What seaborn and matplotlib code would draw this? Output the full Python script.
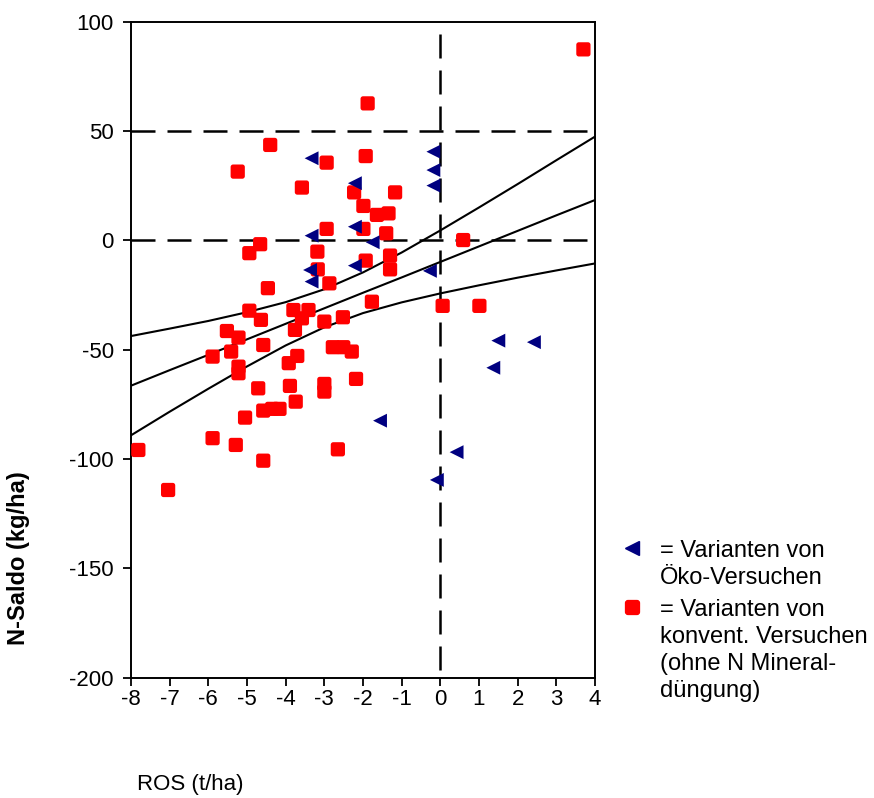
import numpy as np
import pandas as pd
import seaborn as sns
import matplotlib.pyplot as plt
from matplotlib.path import Path
from matplotlib.lines import Line2D

# Werte (ROS in t/ha, N-Saldo in kg/ha)
konv_ros = [3.70, -1.88, -4.40, -5.24, -2.94, -1.93, -3.58, -2.23, -1.17, -1.99,
            -1.64, -1.34, -2.94, -1.99, -1.40, -4.66, -4.94, -3.18, -1.30, -1.93,
            -1.30, -3.17, 0.59, -4.46, -2.87, -1.77, 0.06, 1.01, -4.94, -3.80,
            -3.41, -3.58, -3.00, -2.52, -4.64, -5.52, -5.22, -3.76, -4.58, -5.89,
            -5.41, -5.22, -5.22, -3.92, -3.70, -2.78, -2.51, -2.29, -4.71, -3.89,
            -3.00, -3.00, -2.18, -4.58, -4.16, -4.35, -5.05, -3.74, -5.89, -5.29,
            -7.81, -4.58, -2.65, -7.04]
konv_saldo = [87.3, 62.6, 43.6, 31.4, 35.5, 38.5, 24.1, 21.9, 21.9, 15.7,
              11.6, 12.3, 5.2, 5.2, 3.2, -1.8, -5.9, -5.2, -7.0, -9.3,
              -13.3, -13.3, 0.1, -21.9, -19.7, -28.1, -30.0, -30.0, -32.2, -31.9,
              -31.9, -35.7, -37.2, -35.2, -36.4, -41.5, -44.5, -41.0, -47.9, -53.2,
              -50.9, -57.8, -60.8, -56.2, -52.9, -48.9, -48.9, -50.9, -67.7, -66.6,
              -65.7, -69.2, -63.4, -77.9, -77.1, -77.1, -81.1, -73.8, -90.5, -93.6,
              -95.9, -100.8, -95.6, -114.2]

oeko_ros = [-3.33, -0.18, -0.18, -0.18, -2.21, -2.21, -3.33, -1.75, -2.21,
            -3.37, -0.27, -3.33, -1.56, -0.09, 0.42, 1.50, 2.42, 1.37]
oeko_saldo = [37.5, 40.5, 32.1, 25.0, 26.1, 6.2, 2.1, -0.9, -11.6,
              -13.6, -14.0, -18.9, -82.5, -109.6, -96.9, -45.9, -46.6, -58.3]

# Regressionsgerade und Konfidenzband
band_ros = [-8, -7, -6, -5, -4, -3, -2, -1, 0, 1, 2, 3, 4]
fit_mitte = [-66.5, -59.4, -52.4, -45.3, -38.2, -31.1, -24.0, -17.0, -9.9, -2.8, 4.3, 11.4, 18.4]
fit_oben = [-43.8, -40.4, -36.9, -32.9, -28.3, -22.4, -14.7, -5.6, 4.5, 15.0, 25.7, 36.6, 47.4]
fit_unten = [-89.2, -78.4, -67.9, -57.7, -48.1, -39.8, -33.3, -28.4, -24.3, -20.6, -17.1, -13.8, -10.6]

x_ticks = list(range(-8, 5))
y_ticks = [-200, -150, -100, -50, 0, 50, 100]
ref_h = [0, 50]
ref_v = [0]

legend_texts = ["= Varianten von\nÖko-Versuchen",
                "= Varianten von\nkonvent. Versuchen\n(ohne N Mineral-\ndüngung)"]

ROT = "#ff0000"
BLAU = "#000080"


def rundes_quadrat(r=0.35):
    # Quadrat mit abgerundeten Ecken als Marker
    k = 0.5523 * r
    verts = [(-1 + r, -1), (1 - r, -1),
             (1 - r + k, -1), (1, -1 + r - k), (1, -1 + r),
             (1, 1 - r),
             (1, 1 - r + k), (1 - r + k, 1), (1 - r, 1),
             (-1 + r, 1),
             (-1 + r - k, 1), (-1, 1 - r + k), (-1, 1 - r),
             (-1, -1 + r),
             (-1, -1 + r - k), (-1 + r - k, -1), (-1 + r, -1),
             (-1 + r, -1)]
    codes = ([Path.MOVETO, Path.LINETO] + [Path.CURVE4] * 3 + [Path.LINETO]
             + [Path.CURVE4] * 3 + [Path.LINETO] + [Path.CURVE4] * 3
             + [Path.LINETO] + [Path.CURVE4] * 3 + [Path.CLOSEPOLY])
    return Path(verts, codes)


quadrat = rundes_quadrat()

df_konv = pd.DataFrame({"ROS": konv_ros, "Saldo": konv_saldo})
df_oeko = pd.DataFrame({"ROS": oeko_ros, "Saldo": oeko_saldo})
df_band = pd.DataFrame({"ROS": band_ros, "mitte": fit_mitte,
                        "oben": fit_oben, "unten": fit_unten})

sns.set_theme(style="white")
plt.rcParams["font.family"] = ["Liberation Sans", "DejaVu Sans"]
plt.rcParams["text.color"] = "black"
plt.rcParams["axes.labelcolor"] = "black"
plt.rcParams["xtick.color"] = "black"
plt.rcParams["ytick.color"] = "black"

fig = plt.figure(figsize=(8.74, 7.98), dpi=100)
ax = fig.add_axes([131 / 874, 1 - 677.6 / 798, 464 / 874, 656 / 798])

# Hilfslinien (gestrichelt)
lw_d = 1.8
for yv in ref_h:
    ax.axhline(yv, color="black", lw=lw_d, ls=(0, (9.6, 4.8)), zorder=1)
ax.set_xlim(-8, 4)
ax.set_ylim(-200, 100)
y_lo, y_hi = ax.get_ylim()
for xv in ref_v:
    ax.plot([xv, xv], [y_hi, y_lo], color="black", lw=lw_d,
            ls=(9.6, (9.6, 4.8)), zorder=1)

# Regressionsgerade mit Konfidenzband
for col in ["mitte", "oben", "unten"]:
    sns.lineplot(data=df_band, x="ROS", y=col, ax=ax, color="black",
                 lw=1.5, zorder=2)

# Punkte
sns.scatterplot(data=df_konv, x="ROS", y="Saldo", ax=ax, marker=quadrat,
                s=105, color=ROT, edgecolor="none", linewidth=0, zorder=3)
sns.scatterplot(data=df_oeko, x="ROS", y="Saldo", ax=ax, marker="<",
                s=100, color=BLAU, edgecolor="none", linewidth=0, zorder=4)

ax.set_xticks(x_ticks)
ax.set_yticks(y_ticks)
ax.set_xticklabels([str(v) for v in x_ticks])
ax.set_yticklabels([str(v) for v in y_ticks])
ax.tick_params(axis="both", direction="out", length=5.5, width=1.3,
               labelsize=16, colors="black", bottom=True, left=True)
ax.tick_params(axis="y", pad=7)
ax.tick_params(axis="x", pad=3)
for sp in ax.spines.values():
    sp.set_color("black")
    sp.set_linewidth(1.4)

ax.set_xlabel("ROS (t/ha)", fontsize=16)
ax.xaxis.set_label_coords((190 - 131) / 464, (677.6 - 774) / 656)
ax.set_ylabel("N-Saldo (kg/ha)", fontsize=17, fontweight="bold")
ax.yaxis.set_label_coords((30 - 131) / 464, (677.6 - 558) / 656)

# Legende rechts neben dem Diagramm
fig.add_artist(Line2D([632 / 874], [1 - 548 / 798], transform=fig.transFigure,
                      marker="<", markersize=10, color=BLAU, ls="none"))
fig.add_artist(Line2D([632 / 874], [1 - 607 / 798], transform=fig.transFigure,
                      marker=quadrat, markersize=10, color=ROT, ls="none"))
fig.text(660 / 874, 1 - 564.5 / 798, legend_texts[0], fontsize=17,
         va="center", ha="left", linespacing=1.3)
fig.text(660 / 874, 1 - 650.5 / 798, legend_texts[1], fontsize=17,
         va="center", ha="left", linespacing=1.3)

fig.savefig("out.png", dpi=100)
